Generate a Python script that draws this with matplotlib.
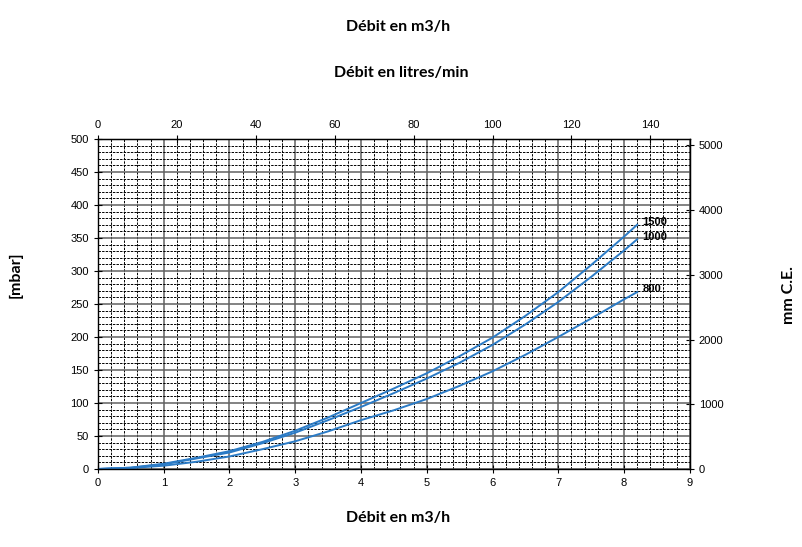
import numpy as np
import matplotlib
matplotlib.use("Agg")
from matplotlib import pyplot as plt
from matplotlib.ticker import MultipleLocator

debit = [0, 0.5, 1, 1.5, 2, 2.5, 3, 3.5, 4, 4.5, 5, 5.5, 6, 6.5, 7, 7.5, 8, 8.2]
perte_1500 = [0, 2, 8, 17, 27, 41, 58, 78, 100, 122, 145, 171, 199, 232, 268, 309, 352, 370]
perte_1000 = [0, 2, 7, 16, 25, 39, 55, 74, 94, 115, 137, 161, 188, 219, 253, 291, 331, 348]
perte_800 = [0, 1.5, 5, 11, 19, 30, 42, 57, 74, 89, 106, 126, 148, 173, 200, 228, 257, 268]
courbes = ["1500", "1000", "800"]

MBAR_TO_MM = 10.197
BLEU = "#2b7bc6"

plt.rcParams['font.family'] = ['Liberation Sans', 'DejaVu Sans']

fig = plt.figure(figsize=(8.03, 5.47), dpi=100)
ax = fig.add_axes([0.122, 0.1426, 0.737, 0.6034])

ax.set_xlim(0, 9)
ax.set_ylim(0, 500)
ax.xaxis.set_major_locator(MultipleLocator(1))
ax.xaxis.set_minor_locator(MultipleLocator(0.2))
ax.yaxis.set_major_locator(MultipleLocator(50))
ax.yaxis.set_minor_locator(MultipleLocator(10))

# grille : traits pleins gris pour les majeures, pointillés noirs pour les mineures
ax.grid(which='minor', color='black', linestyle=(0, (2.5, 1.2)), linewidth=0.7)
ax.grid(which='major', color='#606060', linestyle='-', linewidth=1.1)
ax.set_axisbelow(True)

ax.tick_params(which='major', direction='inout', length=6, labelsize=8)
ax.tick_params(which='minor', length=0)
for sp in ax.spines.values():
    sp.set_linewidth(1.0)

for nom, y in zip(courbes, [perte_1500, perte_1000, perte_800]):
    ax.plot(debit, y, color=BLEU, linewidth=1.4)
    ax.text(debit[-1] + 0.08, y[-1] + 4, nom, fontsize=8, fontweight='bold',
            va='center', ha='left')

# axe haut en litres/min
top = ax.secondary_xaxis('top', functions=(lambda v: v * 1000 / 60, lambda v: v * 60 / 1000))
top.set_xticks(np.arange(0, 141, 20))
top.tick_params(direction='inout', length=6, labelsize=8)

# axe droit en mm C.E.
right = ax.secondary_yaxis('right', functions=(lambda v: v * MBAR_TO_MM, lambda v: v / MBAR_TO_MM))
right.set_yticks(np.arange(0, 5001, 1000))
right.tick_params(direction='inout', length=6, labelsize=8)

titre = dict(family=['Lato', 'DejaVu Sans'], fontweight='bold', fontsize=11.5)
fig.text(0.496, 0.95, "Débit en m3/h", ha='center', va='center', **titre)
fig.text(0.500, 0.866, "Débit en litres/min", ha='center', va='center', **titre)
fig.text(0.496, 0.053, "Débit en m3/h", ha='center', va='center', **titre)
fig.text(0.019, 0.497, "[mbar]", ha='center', va='center', rotation=90, **titre)
fig.text(0.983, 0.46, "mm C.E.", ha='center', va='center', rotation=90, **titre)

fig.savefig("out.png", dpi=100)
